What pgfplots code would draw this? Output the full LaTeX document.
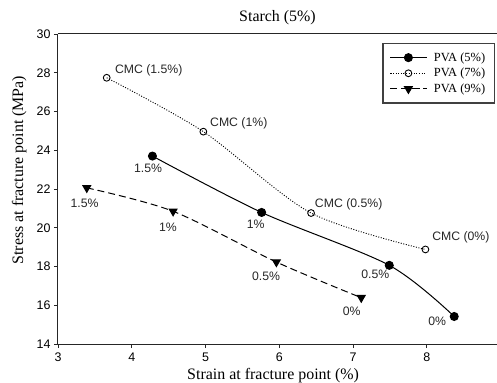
\documentclass[border=0pt]{standalone}
\usepackage{fontspec}
\setmainfont{Liberation Serif}
\newfontfamily\arial{Liberation Sans}
\usepackage{pgfplots}
\pgfplotsset{compat=1.18}
\begin{document}
\begin{tikzpicture}
\begin{axis}[
  scale only axis, width=439bp, height=310bp,
  xmin=3, xmax=8.95, ymin=14, ymax=30,
  xtick={3,4,5,6,7,8}, ytick={14,16,18,20,22,24,26,28,30},
  axis x line=box, axis y line=left, xtick pos=bottom, ytick pos=left,
  axis line style={-, line width=1bp, black!85},
  tick align=outside, major tick length=4bp,
  tick style={line width=0.9bp, black!85},
  tick label style={font=\arial\fontsize{12.5}{14}\selectfont},
  /pgf/number format/assume math mode=true,
  xticklabel style={yshift=-1bp},
  title={Starch (5\%)},
  every axis title/.style={at={(axis description cs:0.5,1)}, anchor=base, yshift=12bp, font=\fontsize{16}{18}\selectfont},
  xlabel={Strain at fracture point (\%)},
  every axis x label/.style={at={(axis description cs:0.49,0)}, anchor=base, yshift=-35bp, font=\fontsize{16}{18}\selectfont},
  ylabel={Stress at fracture point (MPa)},
  every axis y label/.style={at={(axis description cs:-0.0797,0.561)}, anchor=base, rotate=90, font=\fontsize{16}{18}\selectfont},
  legend style={at={(rel axis cs:0.995,0.971)}, anchor=north east, draw=black!75, line width=1.2bp,
    font=\fontsize{12.5}{14}\selectfont, inner xsep=7bp, inner ysep=7bp, row sep=1.5bp,
    /tikz/every odd column/.append style={column sep=5bp}},
  legend cell align=left,
  legend image code/.code={\draw[mark repeat=2,mark phase=2,#1] plot coordinates {(0bp,0bp) (18bp,0bp) (36bp,0bp)};},
]
\addplot[black, line width=1bp, smooth, mark=*, mark size=4bp, mark options={solid, fill=black}]
  coordinates {(4.28,23.70) (5.76,20.79) (7.49,18.06) (8.37,15.42)};
\addlegendentry{PVA (5\%)}
\addplot[black, line width=0.9bp, dash pattern=on 1bp off 1.6bp, smooth, mark=o, mark size=3.4bp, mark options={solid, fill=white, line width=0.9bp}]
  coordinates {(3.66,27.74) (4.97,24.96) (6.43,20.76) (7.98,18.88)};
\addlegendentry{PVA (7\%)}
\addplot[black, line width=1bp, dash pattern=on 7bp off 4bp, smooth, mark=triangle*, mark size=4.5bp, mark options={solid, fill=black, rotate=180}]
  coordinates {(3.39,22.06) (4.56,20.85) (5.96,18.23) (7.11,16.39)};
\addlegendentry{PVA (9\%)}

\begin{scope}[every node/.style={font=\arial\fontsize{12.3}{14}\selectfont, inner sep=0pt, text=black!85}]
\node[anchor=west] at (axis cs:3.77,28.12) {CMC (1.5\%)};
\node[anchor=west] at (axis cs:5.06,25.38) {CMC (1\%)};
\node[anchor=west] at (axis cs:6.48,21.20) {CMC (0.5\%)};
\node[anchor=west] at (axis cs:8.07,19.49) {CMC (0\%)};
\node at (axis cs:4.22,23.06) {1.5\%};
\node at (axis cs:5.68,20.17) {1\%};
\node at (axis cs:7.30,17.58) {0.5\%};
\node at (axis cs:8.14,15.15) {0\%};
\node at (axis cs:3.36,21.27) {1.5\%};
\node at (axis cs:4.49,20.04) {1\%};
\node at (axis cs:5.82,17.49) {0.5\%};
\node at (axis cs:6.98,15.70) {0\%};
\end{scope}
\end{axis}
\pgfresetboundingbox
\path[use as bounding box] ([xshift=-58bp,yshift=-39bp]current axis.south west) rectangle ([yshift=34bp]current axis.north east);
\end{tikzpicture}
\end{document}
